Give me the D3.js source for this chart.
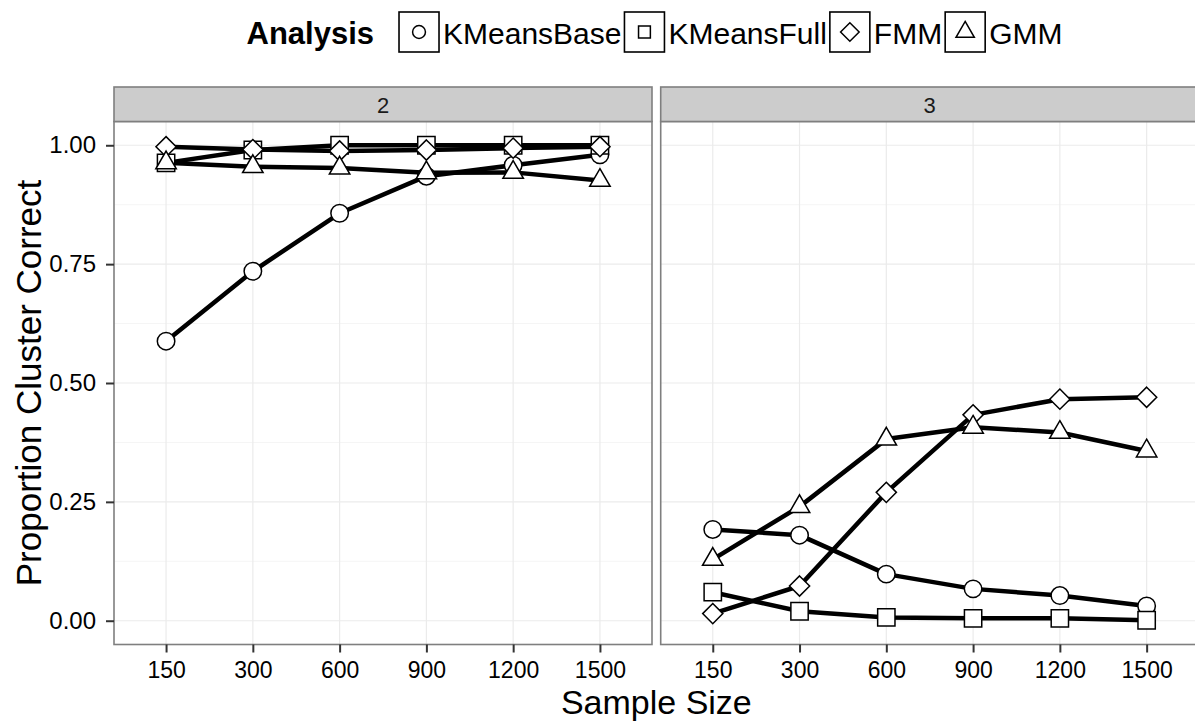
<!DOCTYPE html>
<html>
<head>
<meta charset="utf-8">
<script src="https://cdn.jsdelivr.net/npm/d3@7"></script>
<style>
  body { margin: 0; background: #fff; }
  svg text { font-family: "Liberation Sans", Arial, Helvetica, sans-serif; }
</style>
</head>
<body>
<svg id="chart"></svg>
<script>
const WIDTH = 1195;
const HEIGHT = 723;

// data
const sampleSizes = ['150', '300', '600', '900', '1200', '1500'];
const clusters = ['2', '3'];
const analyses = ['KMeansBase', 'KMeansFull', 'FMM', 'GMM'];
const yTicks = [0, 0.25, 0.5, 0.75, 1];
const yMinor = [0.125, 0.375, 0.625, 0.875];

// k = 2
const kmeansBase2 = [0.588, 0.735, 0.857, 0.935, 0.958, 0.980];
const kmeansFull2 = [0.963, 0.990, 1.000, 1.000, 1.000, 1.000];
const fmm2 = [0.997, 0.991, 0.988, 0.990, 0.994, 0.997];
const gmm2 = [0.963, 0.955, 0.952, 0.942, 0.943, 0.926];
// k = 3
const kmeansBase3 = [0.192, 0.180, 0.098, 0.067, 0.053, 0.031];
const kmeansFull3 = [0.060, 0.020, 0.007, 0.005, 0.005, 0.001];
const fmm3 = [0.015, 0.073, 0.270, 0.433, 0.466, 0.470];
const gmm3 = [0.129, 0.240, 0.382, 0.407, 0.396, 0.357];

const seriesByCluster = {
  '2': [kmeansBase2, kmeansFull2, fmm2, gmm2],
  '3': [kmeansBase3, kmeansFull3, fmm3, gmm3],
};

const symbolTypes = {
  KMeansBase: d3.symbolCircle,
  KMeansFull: d3.symbolSquare,
  FMM: d3.symbolDiamond2,
  GMM: d3.symbolTriangle2,
};
// symbol areas in the panels and in the legend keys
const plotSizes = { KMeansBase: 240, KMeansFull: 300, FMM: 260, GMM: 300 };
const keySizes = { KMeansBase: 130, KMeansFull: 140, FMM: 220, GMM: 240 };

const panelTop = 121.5;
const panelBottom = 644.5;
const panelWidth = 538;
const panelLefts = [114, 660.7];
const FONT = '"Liberation Sans", Arial, sans-serif';

const svg = d3.select('#chart')
    .attr('width', WIDTH)
    .attr('height', HEIGHT);

const y = d3.scaleLinear()
    .domain([-0.05, 1.05])
    .range([panelBottom, panelTop]);

function drawPanel(cluster, left) {
  const x = d3.scalePoint()
      .domain(sampleSizes)
      .range([0, panelWidth])
      .padding(0.6);

  const g = svg.append('g')
      .attr('transform', `translate(${left},0)`);

  // grid
  g.selectAll('line.minor')
    .data(yMinor)
    .join('line')
      .attr('x1', 0).attr('x2', panelWidth)
      .attr('y1', (d) => y(d)).attr('y2', (d) => y(d))
      .attr('stroke', '#f5f5f5').attr('stroke-width', 1);
  g.selectAll('line.majory')
    .data(yTicks)
    .join('line')
      .attr('x1', 0).attr('x2', panelWidth)
      .attr('y1', (d) => y(d)).attr('y2', (d) => y(d))
      .attr('stroke', '#ebebeb').attr('stroke-width', 1.2);
  g.selectAll('line.majorx')
    .data(sampleSizes)
    .join('line')
      .attr('x1', (d) => x(d)).attr('x2', (d) => x(d))
      .attr('y1', panelTop).attr('y2', panelBottom)
      .attr('stroke', '#ebebeb').attr('stroke-width', 1.2);

  const series = seriesByCluster[cluster];
  const line = d3.line()
      .x((d, i) => x(sampleSizes[i]))
      .y((d) => y(d));

  g.selectAll('path.series')
    .data(series)
    .join('path')
      .attr('d', line)
      .attr('fill', 'none')
      .attr('stroke', '#000')
      .attr('stroke-width', 4.5)
      .attr('stroke-linejoin', 'round');

  series.forEach((values, s) => {
    const name = analyses[s];
    g.selectAll(`path.pt${s}`)
      .data(values)
      .join('path')
        .attr('transform', (d, i) => `translate(${x(sampleSizes[i])},${y(d)})`)
        .attr('d', d3.symbol(symbolTypes[name], plotSizes[name]))
        .attr('fill', '#fff')
        .attr('stroke', '#000')
        .attr('stroke-width', 1.5);
  });

  // panel border and strip
  g.append('rect')
      .attr('x', 0).attr('y', panelTop)
      .attr('width', panelWidth).attr('height', panelBottom - panelTop)
      .attr('fill', 'none').attr('stroke', '#7f7f7f').attr('stroke-width', 1.6);
  g.append('rect')
      .attr('x', 0).attr('y', 87)
      .attr('width', panelWidth).attr('height', panelTop - 87)
      .attr('fill', '#cccccc').attr('stroke', '#7f7f7f').attr('stroke-width', 1.6);
  g.append('text')
      .attr('x', panelWidth / 2).attr('y', 113)
      .attr('text-anchor', 'middle')
      .attr('font-size', 22)
      .attr('fill', '#1a1a1a')
      .text(cluster);

  // x axis
  const xAxis = g.append('g')
      .attr('transform', `translate(0,${panelBottom})`)
      .call(d3.axisBottom(x).tickSize(8).tickPadding(9));
  xAxis.select('.domain').remove();
  xAxis.selectAll('line').attr('stroke', '#333').attr('stroke-width', 2);
  xAxis.selectAll('text')
      .attr('font-size', 23)
      .attr('fill', '#000')
      .attr('font-family', FONT);
}

clusters.forEach((c, i) => drawPanel(c, panelLefts[i]));

// y axis
const yAxis = svg.append('g')
    .attr('transform', `translate(${panelLefts[0]},0)`)
    .call(d3.axisLeft(y).tickValues(yTicks).tickFormat(d3.format('.2f')).tickSize(8).tickPadding(10));
yAxis.select('.domain').remove();
yAxis.selectAll('line').attr('stroke', '#333').attr('stroke-width', 2);
yAxis.selectAll('text')
    .attr('font-size', 24)
    .attr('fill', '#000')
    .attr('font-family', FONT);

// axis titles
svg.append('text')
    .attr('x', (panelLefts[0] + panelLefts[1] + panelWidth) / 2)
    .attr('y', 714)
    .attr('text-anchor', 'middle')
    .attr('font-size', 34)
    .text('Sample Size');
svg.append('text')
    .attr('transform', `translate(41,${(panelTop + panelBottom) / 2}) rotate(-90)`)
    .attr('text-anchor', 'middle')
    .attr('font-size', 35)
    .text('Proportion Cluster Correct');

// legend
const legend = svg.append('g');
const KEY = 40;
const KEY_TOP = 12;
let cursor = 0;
const title = legend.append('text')
    .attr('x', cursor).attr('y', 44)
    .attr('font-size', 31)
    .attr('font-weight', 'bold')
    .text('Analysis');
cursor += title.node().getComputedTextLength() + 25;
analyses.forEach((name) => {
  legend.append('rect')
      .attr('x', cursor).attr('y', KEY_TOP)
      .attr('width', KEY).attr('height', KEY)
      .attr('fill', '#fff').attr('stroke', '#000').attr('stroke-width', 1.6);
  legend.append('path')
      .attr('transform', `translate(${cursor + KEY / 2},${KEY_TOP + KEY / 2})`)
      .attr('d', d3.symbol(symbolTypes[name], keySizes[name]))
      .attr('fill', '#fff').attr('stroke', '#000').attr('stroke-width', 1.5);
  cursor += KEY + 4;
  const label = legend.append('text')
      .attr('x', cursor).attr('y', 44)
      .attr('font-size', 30)
      .text(name);
  cursor += label.node().getComputedTextLength() + 3;
});
legend.attr('transform', `translate(${656 - cursor / 2},0)`);
</script>
</body>
</html>
